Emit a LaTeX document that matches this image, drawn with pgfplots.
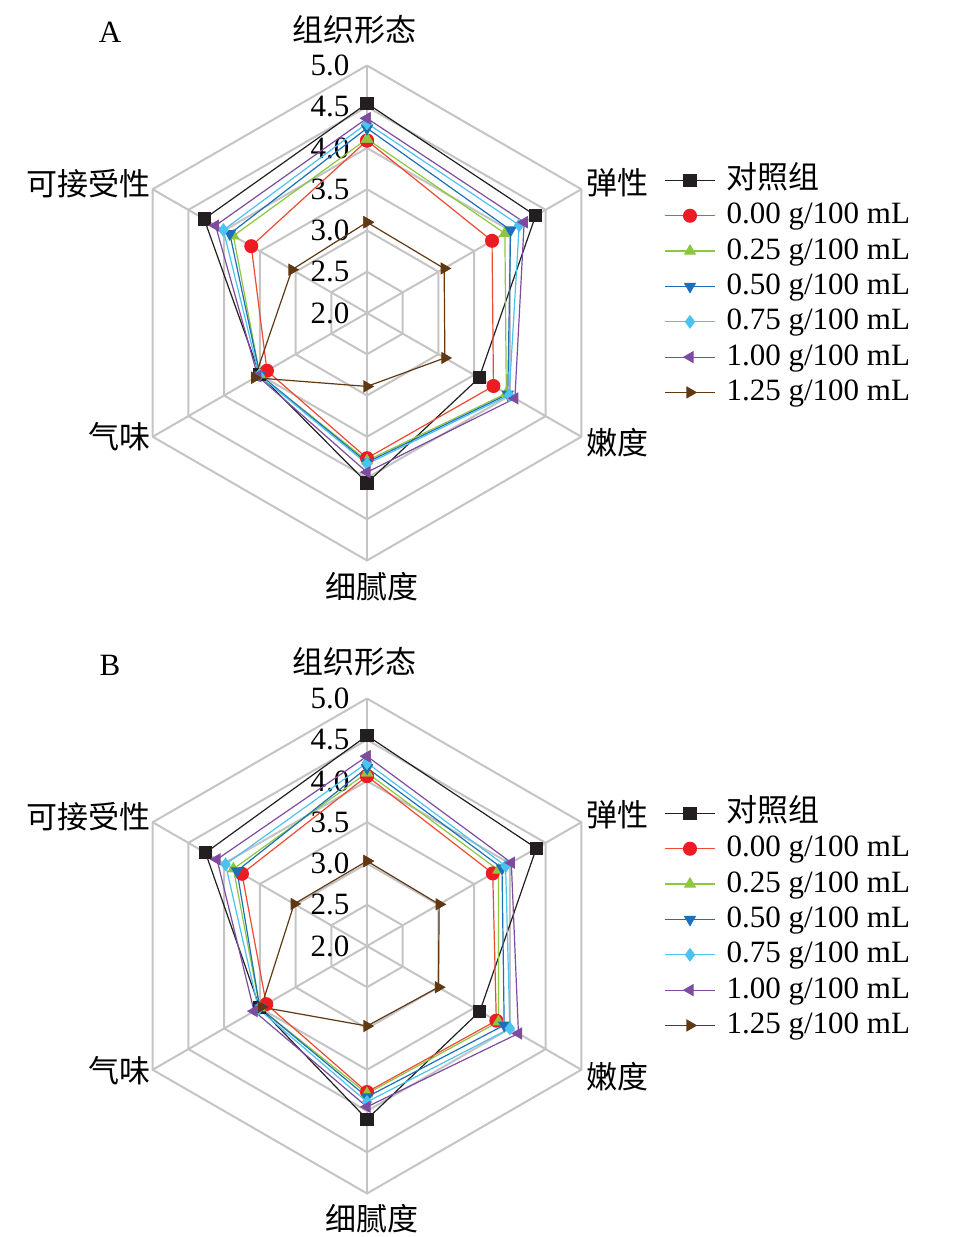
\documentclass[border=0pt]{standalone}
\usepackage{fontspec}
\setmainfont{Liberation Serif}
\newfontfamily\cjk{Noto Sans CJK SC}
\usepackage{pgfplots}
\usepackage{pgfplotstable}
\usepgfplotslibrary{polar}
\pgfplotsset{compat=1.18}

\definecolor{cCtrl}{HTML}{231F20}
\definecolor{cR}{HTML}{ED1C24}
\definecolor{cRl}{HTML}{EE4A32}
\definecolor{cG}{HTML}{8DC63F}
\definecolor{cB}{HTML}{1D6FB8}
\definecolor{cC}{HTML}{4CC2F1}
\definecolor{cP}{HTML}{7D4C9E}
\definecolor{cBr}{HTML}{603913}
\definecolor{gridc}{HTML}{C4C4C4}

% angle: 组织形态 90, 弹性 30, 嫩度 -30, 细腻度 -90, 气味 -150, 可接受性 150
\pgfplotstableread{
ang  ctrl s000 s025 s050 s075 s100 s125
90   4.54 4.09 4.11 4.24 4.30 4.36 3.10
30   4.36 3.75 3.93 4.01 4.13 4.20 3.08
-30  3.57 3.77 3.95 3.97 3.99 4.07 3.09
-90  4.06 3.76 3.79 3.81 3.83 3.93 2.89
-150 3.50 3.40 3.50 3.50 3.51 3.53 3.57
150  4.28 3.62 3.87 3.92 4.01 4.12 3.05
90   4.54 4.09 4.11 4.24 4.30 4.36 3.10
}\dataA

\pgfplotstableread{
ang  ctrl s000 s025 s050 s075 s100 s125
90   4.55 4.06 4.10 4.16 4.22 4.30 3.03
30   4.37 3.76 3.84 3.89 3.94 4.02 3.01
-30  3.58 3.81 3.84 3.92 4.00 4.12 3.00
-90  4.10 3.77 3.79 3.83 3.89 3.95 2.97
-150 3.50 3.41 3.50 3.50 3.52 3.58 3.48
150  4.26 3.75 3.87 3.82 3.98 4.10 3.02
90   4.55 4.06 4.10 4.16 4.22 4.30 3.03
}\dataB

\newcommand{\fs}{\fontsize{15.5}{18}\selectfont}

\pgfplotsset{
  radar/.style={
    hide axis, clip=false, scale only axis,
    width=247.5pt, height=247.5pt,
    xmin=0, xmax=360, ymin=0, ymax=3,
    y filter/.expression={y-2},
    legend cell align=left,
    legend style={at={(axis description cs:1.100,0.801)}, anchor=north west,
      draw=none, fill=none, inner sep=0pt, row sep=1.67pt, column sep=5.5pt,
      font=\fs, nodes={inner sep=0pt, text height=12pt, text depth=4pt}},
    legend image code/.code={
      \draw[mark repeat=2,mark phase=2,##1] plot coordinates {(0pt,0pt) (12.5pt,0pt) (25pt,0pt)};},
  },
  grd/.style={gridc, line width=1pt, no marks, forget plot, line join=miter},
  sr/.style={line width=0.6pt, mark size=3pt, mark options={solid}},
}

\newcommand{\radarbody}[1]{%
  \pgfplotsinvokeforeach{2.5,3,3.5,4,4.5,5}{
    \addplot[grd] coordinates {(90,##1) (30,##1) (-30,##1) (-90,##1) (-150,##1) (150,##1) (90,##1)};
  }
  \pgfplotsinvokeforeach{90,30,-30,-90,-150,150}{
    \addplot[grd] coordinates {(##1,2) (##1,5)};
  }
  \node[font=\fs] at (axis description cs:0.4253,0.5) {2.0};
  \node[font=\fs] at (axis description cs:0.4253,0.5833) {2.5};
  \node[font=\fs] at (axis description cs:0.4253,0.6667) {3.0};
  \node[font=\fs] at (axis description cs:0.4253,0.75) {3.5};
  \node[font=\fs] at (axis description cs:0.4253,0.8333) {4.0};
  \node[font=\fs] at (axis description cs:0.4253,0.9167) {4.5};
  \node[font=\fs] at (axis description cs:0.4253,1.0) {5.0};
  \addplot[sr, cCtrl, mark=square*] table[x=ang, y=ctrl] {#1};
  \addlegendentry{\cjk 对照组}
  \addplot[sr, cRl, mark=*, mark options={fill=cR, draw=cR, mark size=3.2pt}] table[x=ang, y=s000] {#1};
  \addlegendentry{0.00 g/100 mL}
  \addplot[sr, cG, mark=triangle*] table[x=ang, y=s025] {#1};
  \addlegendentry{0.25 g/100 mL}
  \addplot[sr, cB, mark=triangle*, mark options={rotate=180}] table[x=ang, y=s050] {#1};
  \addlegendentry{0.50 g/100 mL}
  \addplot[sr, cC, mark=diamond*] table[x=ang, y=s075] {#1};
  \addlegendentry{0.75 g/100 mL}
  \addplot[sr, cP, mark=triangle*, mark options={rotate=90}] table[x=ang, y=s100] {#1};
  \addlegendentry{1.00 g/100 mL}
  \addplot[sr, cBr, mark=triangle*, mark options={rotate=-90}] table[x=ang, y=s125] {#1};
  \addlegendentry{1.25 g/100 mL}
}

\begin{document}
\begin{tikzpicture}[x=0.5pt, y=0.5pt]
\useasboundingbox (0,0) rectangle (955,1237);

\begin{polaraxis}[radar, at={(183.5pt,462pt)}, anchor=center]
  \radarbody{\dataA}
\end{polaraxis}

\begin{polaraxis}[radar, at={(183.5pt,145.5pt)}, anchor=center]
  \radarbody{\dataB}
\end{polaraxis}

\begin{scope}[every node/.style={font=\fs}]
  \node at (110,1205) {A};
  \node at (354,1207) {\cjk 组织形态};
  \node at (617,1054) {\cjk 弹性};
  \node at (617,794) {\cjk 嫩度};
  \node at (372,650) {\cjk 细腻度};
  \node at (119,800) {\cjk 气味};
  \node at (88,1053) {\cjk 可接受性};

  \node at (110,572) {B};
  \node at (354,575) {\cjk 组织形态};
  \node at (617,422) {\cjk 弹性};
  \node at (617,160) {\cjk 嫩度};
  \node at (372,18) {\cjk 细腻度};
  \node at (119,166) {\cjk 气味};
  \node at (88,420) {\cjk 可接受性};
\end{scope}
\end{tikzpicture}
\end{document}
